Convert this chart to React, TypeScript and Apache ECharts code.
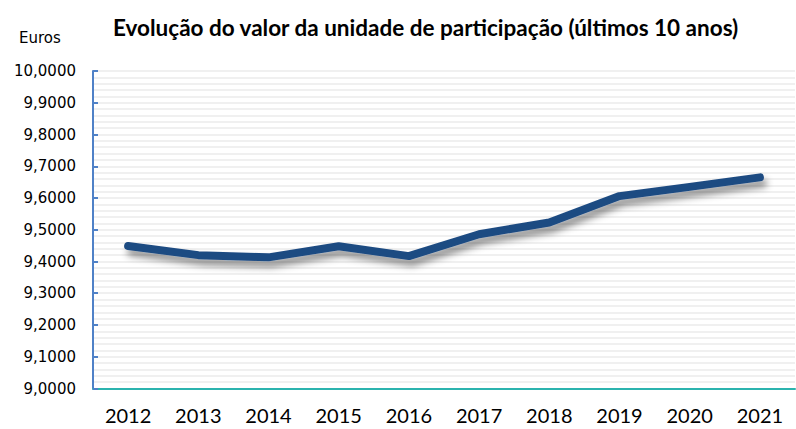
import React, { useEffect, useRef } from "react";
import * as echarts from "echarts";

const categories = ["2012", "2013", "2014", "2015", "2016", "2017", "2018", "2019", "2020", "2021"];
const values = [9.449, 9.42, 9.413, 9.448, 9.417, 9.486, 9.523, 9.606, 9.635, 9.665];
const titleText = "Evolução do valor da unidade de participação (últimos 10 anos)";
const unitText = "Euros";

export default function App() {
  const ref = useRef<HTMLDivElement>(null);
  useEffect(() => {
    const chart = echarts.init(ref.current!, null, { renderer: "svg" });
    chart.setOption({
      animation: false,
      backgroundColor: "#ffffff",
      title: {
        text: titleText,
        left: 108,
        top: 11,
        textStyle: { fontFamily: "Lato", fontWeight: "bold", fontSize: 22.5, color: "#000000" },
      },
      graphic: [
        {
          type: "text",
          left: 19,
          top: 30,
          style: { text: unitText, fontFamily: "DejaVu Sans", fontSize: 15, fill: "#000000" },
        },
      ],
      grid: { left: 93, right: 1, top: 71, bottom: 40.5, containLabel: false },
      xAxis: {
        type: "category",
        data: categories,
        boundaryGap: true,
        axisLine: { show: true, lineStyle: { color: "#2bb3ae", width: 2 } },
        axisTick: { show: false },
        axisLabel: { margin: 16, fontFamily: "Lato", fontSize: 20, color: "#000000" },
        splitLine: { show: false },
      },
      yAxis: {
        type: "value",
        min: 9,
        max: 10,
        interval: 0.1,
        axisLine: { show: true, lineStyle: { color: "#4f81c7", width: 2 } },
        axisTick: { show: true, inside: true, length: 5, lineStyle: { color: "#4f81c7", width: 2 } },
        axisLabel: {
          margin: 17,
          fontFamily: "DejaVu Sans",
          fontSize: 15,
          color: "#000000",
          formatter: (v: number) => v.toFixed(4).replace(".", ","),
        },
        splitLine: { show: true, lineStyle: { color: "#ebebeb", width: 1.5 } },
        minorTick: { show: false, splitNumber: 5 },
        minorSplitLine: { show: true, lineStyle: { color: "#ebebeb", width: 1.5 } },
      },
      series: [
        {
          type: "line",
          data: values,
          symbol: "none",
          lineStyle: {
            color: "#1f4b82",
            width: 8,
            cap: "round",
            join: "round",
            shadowColor: "rgba(0,0,0,0.45)",
            shadowBlur: 7,
            shadowOffsetX: 3,
            shadowOffsetY: 6,
          },
        },
      ],
    });
    return () => chart.dispose();
  }, []);
  return <div ref={ref} style={{ width: 796, height: 429, position: "absolute", left: 0, top: 0 }} />;
}
